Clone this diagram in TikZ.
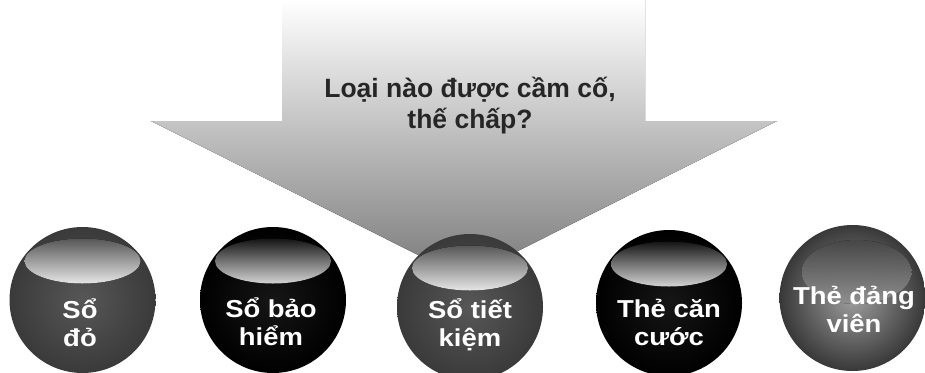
\documentclass[tikz,border=0pt]{standalone}
\usepackage{fontspec}
\setmainfont{Liberation Sans}
\newfontfamily\orbfont{Liberation Sans}[FakeStretch=1.12]
\definecolor{arrowbot}{HTML}{7A7A7A}
\definecolor{titlecol}{HTML}{262626}
\definecolor{sphgrayin}{HTML}{575757}
\definecolor{sphgrayout}{HTML}{3A3A3A}
\definecolor{sphblackin}{HTML}{161616}
\definecolor{sphblackout}{HTML}{000000}
\begin{document}
\begin{tikzpicture}[x=1pt,y=-1pt,
  titletext/.style={text=titlecol,font=\fontsize{26.5}{31}\selectfont\bfseries,align=center,inner sep=0pt},
  orbtext/.style={text=white,font=\orbfont\fontsize{24.5}{28}\selectfont\bfseries,align=center,inner sep=0pt},
  orb/.style={circle,minimum size=146pt,inner sep=0pt},
  grayorb/.style={orb,inner color=sphgrayin,outer color=sphgrayout},
  blackorb/.style={orb,inner color=sphblackin,outer color=sphblackout},
  glossgray/.style={top color=black!66,bottom color=black!10},
  glossblack/.style={top color=black!92,bottom color=black!17}]
\useasboundingbox (0,0) rectangle (925,372);
\clip (0,0) rectangle (925,372);
% big arrow
\fill[top color=white,bottom color=arrowbot]
  (282,0) -- (645,0) -- (645,121) -- (777,121) -- (464,278) -- (151,121) -- (282,121) -- cycle;
\node[titletext,anchor=base] (q) at (470,128) {Loại nào được cầm cố,\\thế chấp?};
% spheres
\node[grayorb] (s1) at (82.5,300) {};
\node[blackorb] (s2) at (273,300) {};
\node[grayorb] (s3) at (470,307) {};
\node[blackorb] (s4) at (669,303) {};
\node[orb,inner color=black!38,outer color=black!78] (s5) at (852.5,298) {};
% gloss highlights
\fill[glossgray] ([yshift=39pt]s1.center) ellipse (58 and 22.5);
\fill[glossblack] ([yshift=39pt]s2.center) ellipse (58 and 22.5);
\fill[glossgray] ([yshift=39pt]s3.center) ellipse (58 and 22.5);
\fill[glossblack] ([yshift=39pt]s4.center) ellipse (58 and 22.5);
\fill[top color=black!68,bottom color=black!35,opacity=0.85] ([xshift=4pt,yshift=26pt]s5.center) ellipse (55 and 32);
% labels
\node[orbtext,anchor=base] (t1) at (80,346) {Sổ\\đỏ};
\node[orbtext,anchor=base] (t2) at (271,345) {Sổ bảo\\hiểm};
\node[orbtext,anchor=base] (t3) at (470,346) {Sổ tiết\\kiệm};
\node[orbtext,anchor=base] (t4) at (669,345) {Thẻ căn\\cước};
\node[orbtext,anchor=base] (t5) at (854,332) {Thẻ đảng\\viên};
\end{tikzpicture}
\end{document}
